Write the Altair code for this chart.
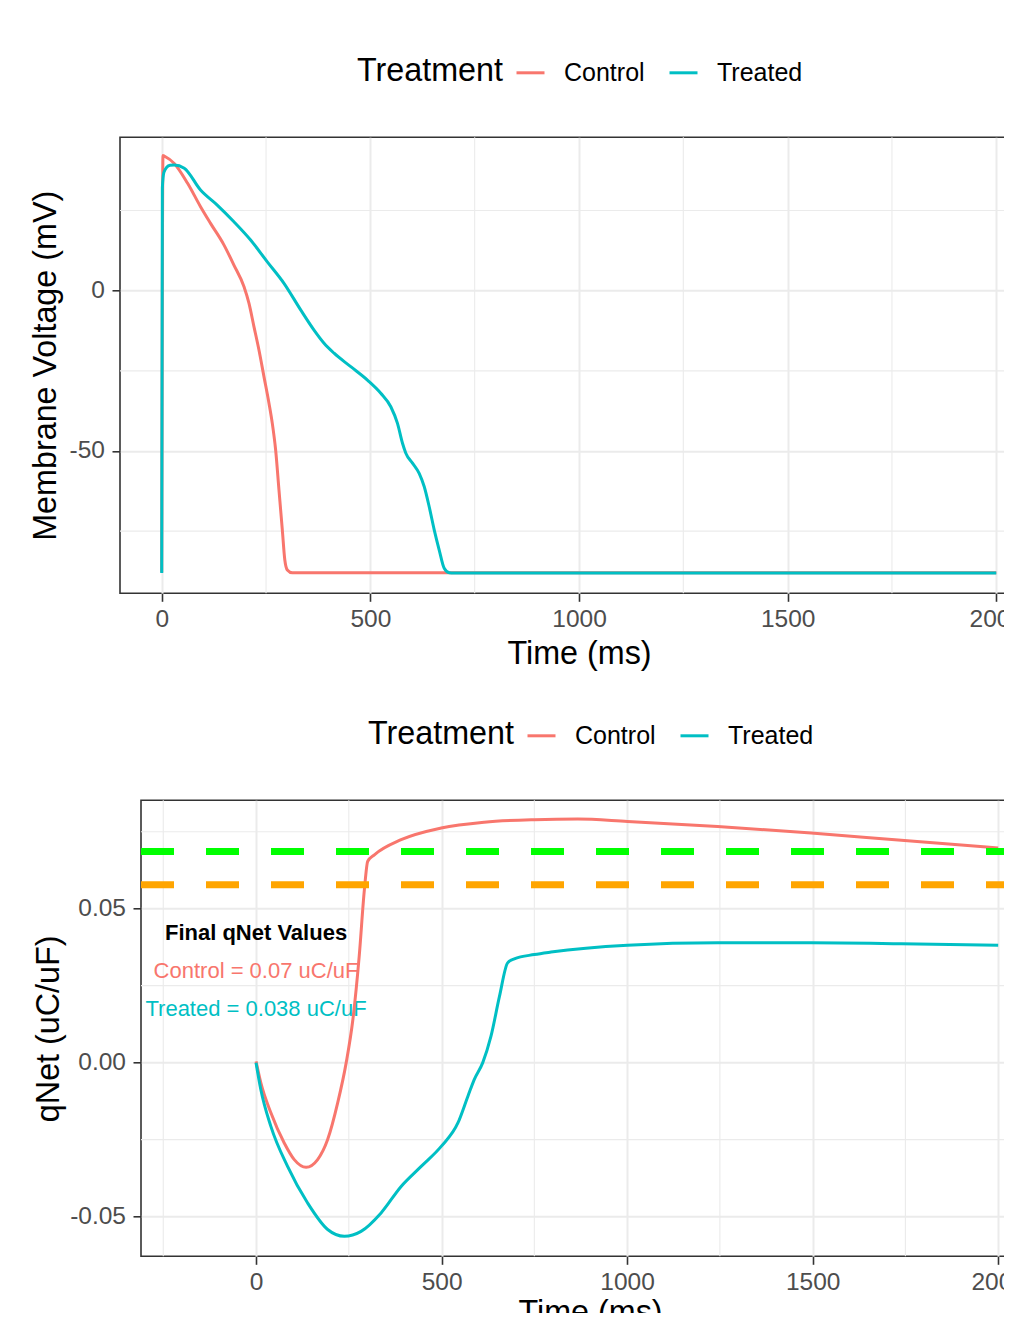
import altair as alt
import pandas as pd

FONT = "Liberation Sans"
RED, TEAL = "#F8766D", "#00BFC4"
GROUPS = ["Control", "Treated"]

# ---------------- Top panel: membrane voltage (mV) ----------------
v_ctrl_t = [0, 3, 6, 30, 62, 93, 117, 149, 173, 197, 209, 221, 233, 245, 257,
            265, 273, 281, 289, 295, 301, 313, 400, 500, 700, 1000, 1500, 2000]
v_ctrl = [-87.8, 42.2, 42.0, 39.7, 33.5, 26.2, 21.0, 14.3, 8.0, 1.3, -3.9,
          -11.2, -18.5, -26.8, -35.1, -41.4, -49.7, -62.2, -74.6, -84.0, -87.1,
          -88.0, -88.0, -88.0, -88.0, -88.0, -88.0, -88.0]

v_trt_t = [0, 1.5, 5, 12, 20, 30, 54, 93, 133, 173, 213, 253, 293, 333, 365, 389,
           413, 453, 493, 525, 549, 565, 577, 585, 601, 617, 629, 641, 653, 665,
           677, 689, 700, 1000, 1500, 2000]
v_trt = [-88.1, 32.0, 36.8, 38.5, 39.1, 39.2, 38.2, 31.4, 26.7, 21.5, 15.8, 9.0,
         2.3, -6.0, -12.3, -16.4, -19.5, -23.7, -27.9, -32.0, -36.2, -41.4, -47.6,
         -50.7, -53.8, -57.0, -61.1, -67.4, -74.6, -80.9, -86.6, -88.0, -88.1,
         -88.1, -88.1, -88.1]

# ---------------- Bottom panel: qNet (uC/uF) ----------------
q_ctrl_t = [0, 13, 40, 76, 103, 135, 166, 193, 220, 243, 261, 278, 292, 301, 319,
            391, 499, 615, 750, 867, 1001, 1244, 1496, 1739, 2000]
q_ctrl = [0.0004, -0.0066, -0.0163, -0.0261, -0.0315, -0.0340, -0.0315, -0.0250,
          -0.0131, 0.0000, 0.0140, 0.0345, 0.0562, 0.0654, 0.0675, 0.0724, 0.0762,
          0.0781, 0.0789, 0.0791, 0.0783, 0.0767, 0.0746, 0.0722, 0.0697]

q_trt_t = [0, 13, 40, 85, 139, 193, 238, 283, 337, 391, 445, 499, 544, 571, 588,
           611, 633, 656, 678, 696, 750, 795, 1001, 1244, 1496, 1739, 2000]
q_trt = [0.0, -0.0088, -0.0207, -0.0337, -0.0456, -0.0542, -0.0564, -0.0548,
         -0.0488, -0.0402, -0.0337, -0.0272, -0.0196, -0.0109, -0.0055, 0.0,
         0.0085, 0.0215, 0.0324, 0.0337, 0.0351, 0.0359, 0.0381, 0.0389, 0.0389,
         0.0386, 0.0381]

hline_vals = [0.0686, 0.0578]
hline_colors = ["#00FF00", "#FFA500"]

ann_text = ["Final qNet Values", "Control = 0.07 uC/uF", "Treated = 0.038 uC/uF"]
ann_x = [0, 0, 0]
ann_y = [0.0420, 0.0299, 0.0173]
ann_color = ["black", RED, TEAL]

# ---------------- ticks / grid ----------------
top_x_major = [0, 500, 1000, 1500, 2000]
top_x_minor = [250, 750, 1250, 1750]
top_y_major = [-50, 0]
top_y_minor = [-75, -25, 25]
bot_x_major = [0, 500, 1000, 1500, 2000]
bot_x_minor = [-250, 250, 750, 1250, 1750]
bot_y_major = [-0.05, 0, 0.05]
bot_y_minor = [-0.025, 0.025, 0.075]

top_x_domain = [-100, 2100]
top_y_domain = [-94.4, 47.85]
bot_x_domain = [-310, 2110]
bot_y_domain = [-0.0629, 0.0852]

# ---------------- tables ----------------
df_v = pd.concat([
    pd.DataFrame({"t": v_ctrl_t, "v": v_ctrl, "Treatment": GROUPS[0]}),
    pd.DataFrame({"t": v_trt_t, "v": v_trt, "Treatment": GROUPS[1]}),
])
df_q = pd.concat([
    pd.DataFrame({"t": q_ctrl_t, "v": q_ctrl, "Treatment": GROUPS[0]}),
    pd.DataFrame({"t": q_trt_t, "v": q_trt, "Treatment": GROUPS[1]}),
])
df_h = pd.DataFrame({"v": hline_vals, "c": hline_colors})
df_ann = pd.DataFrame({"label": ann_text, "t": ann_x, "v": ann_y, "c": ann_color})

color_scale = alt.Scale(domain=GROUPS, range=[RED, TEAL])

TOP_W, TOP_H = 918, 456
BOT_W, BOT_H = 898, 456
GRID = "#EBEBEB"
TITLE_FS = 32.3


def legend(x, y):
    return alt.Legend(
        orient="none", legendX=x, legendY=y, direction="horizontal",
        title="Treatment", titleOrient="left", titleFontSize=TITLE_FS,
        titleFontWeight="normal", titleColor="black", titleFont=FONT,
        titlePadding=12, labelFontSize=25, labelColor="black", labelFont=FONT,
        symbolType="stroke", symbolStrokeWidth=3, symbolSize=784,
        labelOffset=18, columnPadding=18, padding=0, gridAlign="none",
    )


def neg_expr(fmt):
    return (f"datum.value < 0 ? '-' + format(-datum.value, '{fmt}') : "
            f"format(datum.value, '{fmt}')")


def x_axis(values, title_y, fmt="d"):
    return alt.Axis(values=values, labelExpr=neg_expr(fmt), title="Time (ms)",
                    titleY=title_y, titleBaseline="alphabetic", labelPadding=6)


def y_axis(values, fmt, title, title_x, h):
    return alt.Axis(values=values, labelExpr=neg_expr(fmt), title=title,
                    titleX=title_x, titleY=h / 2, titleAngle=270,
                    titleAlign="center", titleBaseline="alphabetic",
                    labelPadding=7.5)


def build_panel(df_lines, xs, ys, xax, yax, leg, xminor, yminor, extra_layers,
                w, h):
    X = lambda f: alt.X(f, scale=xs, axis=xax)
    Y = lambda f: alt.Y(f, scale=ys, axis=yax)
    vg = alt.Chart(pd.DataFrame({"t": xminor})).mark_rule(
        color=GRID, strokeWidth=1.1).encode(x=X("t:Q"))
    hg = alt.Chart(pd.DataFrame({"v": yminor})).mark_rule(
        color=GRID, strokeWidth=1.1).encode(y=Y("v:Q"))
    lines = alt.Chart(df_lines).mark_line(
        strokeWidth=3, interpolate="monotone").encode(
        x=X("t:Q"), y=Y("v:Q"),
        color=alt.Color("Treatment:N", scale=color_scale, legend=leg))
    layers = [vg, hg]
    pre, post = extra_layers(xs, xax, X, Y)
    layers += pre + [lines] + post
    return alt.layer(*layers).properties(width=w, height=h)


# ---------------- top chart ----------------
xs_top = alt.Scale(domain=top_x_domain, nice=False, zero=False)
ys_top = alt.Scale(domain=top_y_domain, nice=False, zero=False)

top = build_panel(
    df_v, xs_top, ys_top, x_axis(top_x_major, 70),
    y_axis(top_y_major, "d", "Membrane Voltage (mV)", -64.5, TOP_H),
    legend(237, -80), top_x_minor, top_y_minor, lambda *a: ([], []),
    TOP_W, TOP_H)

# ---------------- bottom chart ----------------
xs_bot = alt.Scale(domain=bot_x_domain, nice=False, zero=False)
ys_bot = alt.Scale(domain=bot_y_domain, nice=False, zero=False)


def bottom_extras(xs, xax, X, Y):
    ann_title = alt.Chart(df_ann.iloc[[0]]).mark_text(
        font=FONT, fontSize=22, fontWeight="bold", align="center",
        baseline="middle"
    ).encode(x=X("t:Q"), y=Y("v:Q"), text="label:N",
             color=alt.Color("c:N", scale=None))
    ann_vals = alt.Chart(df_ann.iloc[1:]).mark_text(
        font=FONT, fontSize=22, align="center", baseline="middle"
    ).encode(x=X("t:Q"), y=Y("v:Q"), text="label:N",
             color=alt.Color("c:N", scale=None))
    # horizontal reference lines drawn left -> right across the full x range
    hlines = alt.Chart(df_h).mark_rule(strokeWidth=7, strokeDash=[33, 32]).encode(
        x=alt.XDatum(bot_x_domain[0], type="quantitative", scale=xs, axis=xax),
        x2=alt.X2Datum(bot_x_domain[1]),
        y=Y("v:Q"), color=alt.Color("c:N", scale=None))
    return [ann_title, ann_vals], [hlines]


bottom = build_panel(
    df_q, xs_bot, ys_bot, x_axis(bot_x_major, 66),
    y_axis(bot_y_major, ".2f", "qNet (uC/uF)", -83, BOT_H),
    legend(227, -80), bot_x_minor, bot_y_minor, bottom_extras,
    BOT_W, BOT_H)

spacer = alt.Chart(pd.DataFrame({"s": [0]})).mark_point(opacity=0).encode(
    x=alt.X("s:Q", axis=None), y=alt.Y("s:Q", axis=None)
).properties(width=1, height=1, view=alt.ViewBackground(strokeOpacity=0))

bottom_row = alt.hconcat(spacer, bottom, spacing=20, bounds="flush").resolve_scale(
    color="independent")

# fixed-size canvas that fills the page body, so the figure is cropped at the
# window edge as in the reference
PAD_L, PAD_T = 112, 129.3
CANVAS_W, CANVAS_H = 996, 1305

chart = alt.vconcat(top, bottom_row, spacing=207, bounds="flush").resolve_scale(
    color="independent"
).properties(
    autosize=alt.AutoSizeParams(type="none"),
    padding={"left": PAD_L, "top": PAD_T,
             "right": CANVAS_W - PAD_L, "bottom": CANVAS_H - PAD_T},
).configure(font=FONT).configure_view(
    stroke="#333333", strokeWidth=1.6
).configure_axis(
    labelFont=FONT, labelFontSize=24.5, labelColor="#4D4D4D",
    tickColor="#333333", tickWidth=1.6, tickSize=8, domain=False,
    grid=True, gridColor=GRID, gridWidth=2,
    titleFont=FONT, titleFontSize=TITLE_FS, titleColor="black",
    titleFontWeight="normal",
)

chart.save("out.html", embed_options={"renderer": "svg", "actions": False})
